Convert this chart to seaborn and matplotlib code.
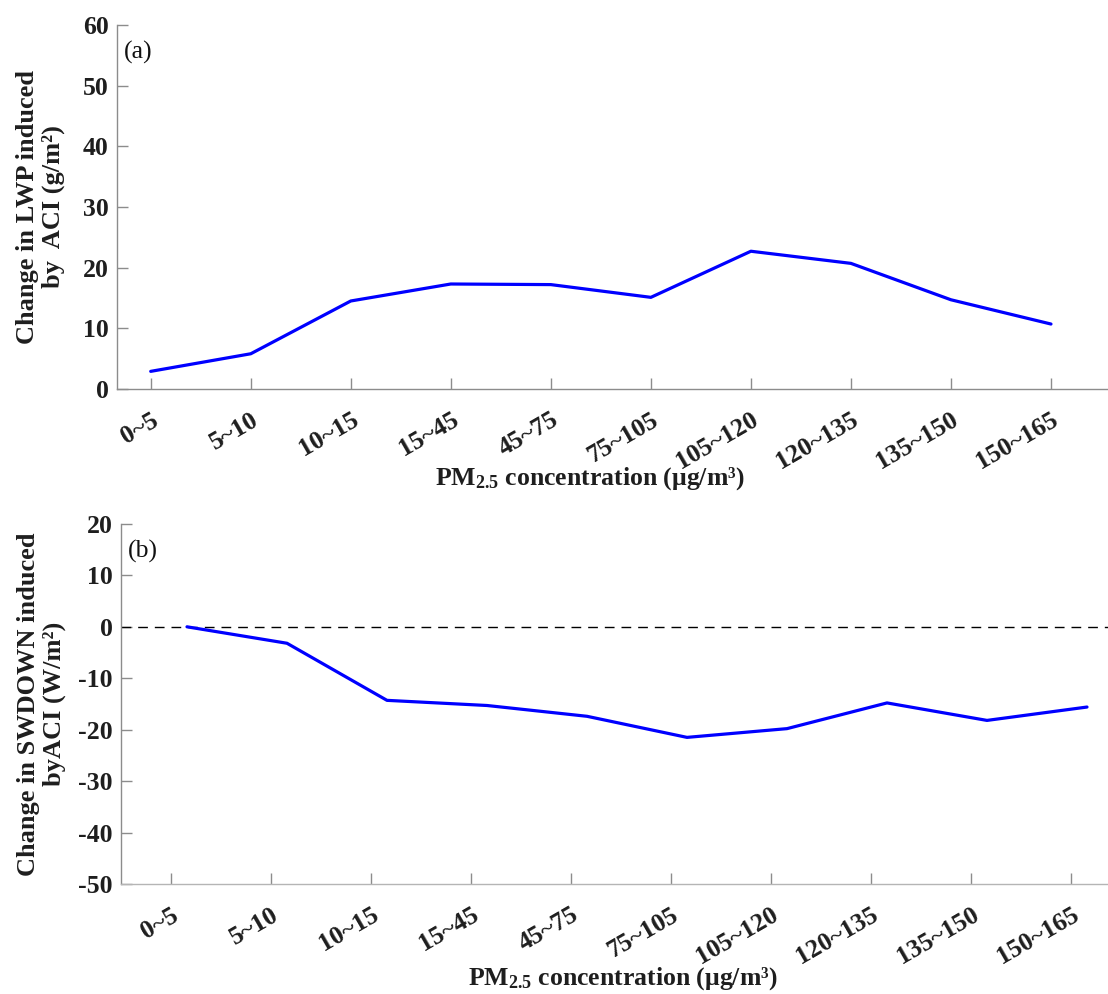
import numpy as np
import pandas as pd
import matplotlib
matplotlib.use("Agg")
import matplotlib.pyplot as plt
import seaborn as sns

# PM2.5 bins and ACI-induced changes
pm_bins = ["0~5", "5~10", "10~15", "15~45", "45~75", "75~105",
           "105~120", "120~135", "135~150", "150~165"]
lwp_change = [2.9, 5.8, 14.5, 17.3, 17.2, 15.1, 22.7, 20.7, 14.7, 10.7]
swdown_change = [0.0, -3.2, -14.3, -15.3, -17.4, -21.5, -19.8, -14.8, -18.2, -15.6]

sns.set_theme(style="white")
plt.rcParams["font.family"] = ["Liberation Serif", "DejaVu Serif"]
plt.rcParams["font.weight"] = "bold"
plt.rcParams["mathtext.default"] = "regular"
plt.rcParams["axes.unicode_minus"] = False

spine_col = "#8c8c8c"
text_col = "#1e1e1e"
fs = 18.5


def style_axes(ax, ylim, yticks, spine):
    sns.despine(ax=ax)
    for s in ["left", "bottom"]:
        ax.spines[s].set_color(spine)
        ax.spines[s].set_linewidth(1.0)
    ax.set_ylim(*ylim)
    ax.set_yticks(yticks)
    ax.set_xticks(np.arange(1, len(pm_bins) + 1))
    ax.set_xticklabels(pm_bins, rotation=30, ha="right", rotation_mode="anchor")
    ax.tick_params(axis="both", direction="in", length=8, width=1, color=spine,
                   labelsize=fs, labelcolor=text_col, bottom=True, left=True)
    ax.tick_params(axis="x", pad=14)
    ax.tick_params(axis="y", pad=6)
    for lab in ax.get_xticklabels() + ax.get_yticklabels():
        lab.set_fontweight("bold")


fig = plt.figure(figsize=(11.08, 9.94), dpi=100)
ax1 = fig.add_axes([0.1056, 0.6087, 0.8944, 0.3662])
ax2 = fig.add_axes([0.1092, 0.1107, 0.8908, 0.3622])

# (a) liquid water path
df_a = pd.DataFrame({"x": np.arange(1, len(pm_bins) + 1), "y": lwp_change})
sns.lineplot(data=df_a, x="x", y="y", ax=ax1, color="#0000ff", linewidth=2.3)
ax1.set_xlim(0.663, 10.57)
style_axes(ax1, (0, 60), np.arange(0, 61, 10), spine_col)
ax1.set_xlabel("PM$_{2.5}$ concentration (μg/m³)", fontsize=fs, fontweight="bold",
               color=text_col)
ax1.xaxis.set_label_coords(0.477, -0.21)
ax1.xaxis.label.set_va("top")
ax1.set_ylabel("Change in LWP induced\nby  ACI (g/m²)", fontsize=19, fontweight="bold",
               color=text_col, linespacing=1.15)
ax1.yaxis.set_label_coords(-0.052, 0.5)
ax1.text(0.007, 0.955, "(a)", transform=ax1.transAxes, fontsize=fs,
         fontweight="normal", ha="left", va="top", color="#111111")

# (b) downward shortwave radiation (drawn slightly right of the ticks as in the source)
df_b = pd.DataFrame({"x": np.arange(1, len(pm_bins) + 1) + 0.16, "y": swdown_change})
ax2.axhline(0, color="black", linewidth=1.0, linestyle=(0, (7, 5)))
sns.lineplot(data=df_b, x="x", y="y", ax=ax2, color="#0000ff", linewidth=2.3)
ax2.set_xlim(0.5, 10.37)
style_axes(ax2, (-50, 20), np.arange(-50, 21, 10), spine_col)
ax2.spines["bottom"].set_color("#b5b5b5")
ax2.set_xlabel("PM$_{2.5}$ concentration (μg/m³)", fontsize=fs, fontweight="bold",
               color=text_col)
ax2.xaxis.set_label_coords(0.508, -0.225)
ax2.xaxis.label.set_va("top")
ax2.set_ylabel("Change in SWDOWN induced\nbyACI (W/m²)", fontsize=19, fontweight="bold",
               color=text_col, linespacing=1.15)
ax2.yaxis.set_label_coords(-0.056, 0.5)
ax2.text(0.007, 0.955, "(b)", transform=ax2.transAxes, fontsize=fs,
         fontweight="normal", ha="left", va="top", color="#111111")

fig.savefig("out.png", dpi=100)
